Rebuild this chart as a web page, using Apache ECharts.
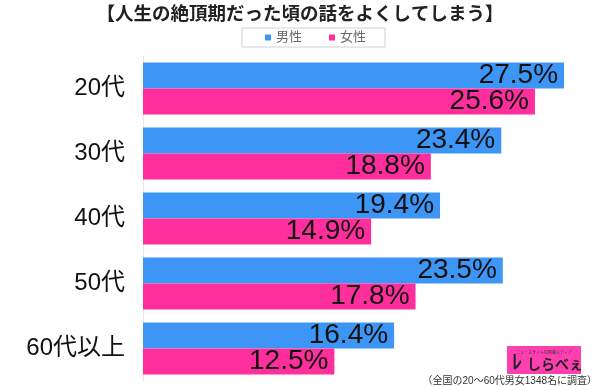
<!DOCTYPE html>
<html><head><meta charset="utf-8">
<script src="https://cdn.jsdelivr.net/npm/echarts@6/dist/echarts.min.js"></script>
<style>html,body{margin:0;padding:0;background:#fff}#c{width:600px;height:386px}</style>
</head><body><div id="c"></div>
<script>
const categories = ['20代','30代','40代','50代','60代以上'];
const maleValues = [27.5, 23.4, 19.4, 23.5, 16.4];
const femaleValues = [25.6, 18.8, 14.9, 17.8, 12.5];
const seriesNames = ['男性','女性'];
const titleText = '【人生の絶頂期だった頃の話をよくしてしまう】';
const noteText = '（全国の20〜60代男女1348名に調査）';

const chart = echarts.init(document.getElementById('c'));
const font = '"Liberation Sans","Noto Sans CJK JP",sans-serif';
const lbl = {show:true, position:'insideRight', distance:6, color:'#111', fontSize:28, fontFamily:font,
  formatter: p => p.value.toFixed(1) + '%'};
chart.setOption({
  animation:false,
  title:{text:titleText, left:'center', top:1, textStyle:{fontSize:18.5, fontWeight:'bold', color:'#222', fontFamily:font}},
  legend:{data:seriesNames, top:28, left:242, itemWidth:6, itemHeight:6, itemGap:27, icon:'rect',
    borderColor:'#d0d0d0', borderWidth:1, padding:[3,19,3,23],
    textStyle:{fontSize:13, color:'#666', fontFamily:font}},
  grid:{left:143, top:56, width:428.7, height:325},
  xAxis:{type:'value', min:0, max:28, show:false},
  yAxis:{type:'category', data:categories, inverse:true,
    axisLine:{show:true, lineStyle:{color:'#e6e6e6'}}, axisTick:{show:false},
    axisLabel:{fontSize:24, color:'#111', margin:18, fontFamily:font}},
  series:[
    {name:seriesNames[0], type:'bar', data:maleValues, itemStyle:{color:'#3d95f5'}, barGap:'0%', barCategoryGap:'20%', label:lbl},
    {name:seriesNames[1], type:'bar', data:femaleValues, itemStyle:{color:'#fe2f9c'}, label:lbl}
  ],
  graphic:[
    {type:'rect', shape:{x:507, y:346, width:74, height:28}, style:{fill:'#ff3fb0'}},
    {type:'text', style:{x:544, y:351, text:'ニュースサイトの情報メディア', fontSize:4, fill:'#333', textAlign:'center', fontFamily:font}},
    {type:'text', style:{x:512, y:353, text:'ﾚ', fontSize:20, fontWeight:'bold', fill:'#222', fontFamily:font}},
    {type:'text', style:{x:527, y:357, text:'しらべぇ', fontSize:14, fontWeight:'bold', fill:'#222', fontFamily:'"Noto Sans CJK JP",sans-serif'}},
    {type:'text', style:{x:597, y:376, text:noteText, fontSize:10, fill:'#333', textAlign:'right', fontFamily:font}}
  ]
});
</script></body></html>
